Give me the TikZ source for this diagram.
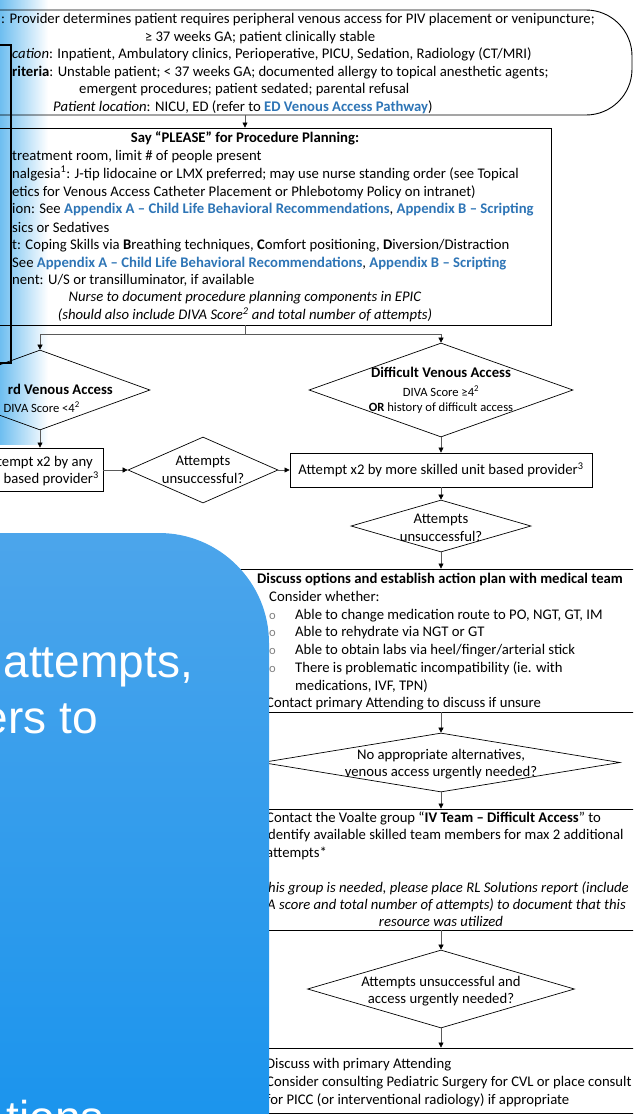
\documentclass[tikz,border=0pt]{standalone}
\usepackage{fontspec}
\setmainfont{Carlito}
\newfontfamily\slidefont{Liberation Sans}
\usetikzlibrary{
    positioning,
    arrows.meta,
    shapes.geometric,
    fadings
}
\definecolor{LinkBlue}{RGB}{46,117,182}
\definecolor{LineGray}{RGB}{90,90,90}
\definecolor{GlowBlue}{RGB}{110,190,240}
\definecolor{SlideTop}{RGB}{76,165,235}
\definecolor{SlideBottom}{RGB}{26,148,237}
\newcommand{\lnk}[1]{\textcolor{LinkBlue}{\textbf{#1}}}

\begin{document}
\begin{tikzpicture}[
    x=1pt, y=-1pt,
    box/.style={rectangle, draw, line width=0.9pt, inner sep=0pt},
    decis/.style={diamond, draw, line width=0.7pt, inner sep=0pt},
    txt/.style={inner sep=0pt, font=\fontsize{14.7}{17.5}\selectfont},
    smalltxt/.style={inner sep=0pt, font=\fontsize{12.6}{15}\selectfont},
    arr/.style={draw=LineGray, line width=0.6pt, -{Triangle[length=5pt, width=5pt, color=black]}},
    conn/.style={draw=LineGray, line width=0.6pt},
    slide/.style={inner sep=0pt, text=white, font=\slidefont\fontsize{46}{56}\selectfont},
]
\useasboundingbox (0,0) rectangle (633,1114);
\clip (0,0) rectangle (633,1114);

% soft glow on the left edge
\fill[GlowBlue, path fading=east] (0,0) rectangle (48,445);

% inclusion / exclusion box
\node[box, rounded corners=46pt, minimum width=712pt, minimum height=105pt] (incl) at (276,62.5) {};
\node[txt, anchor=base west] (inc1) at (1,23.5) {: Provider determines patient requires peripheral venous access for PIV placement or venipuncture;};
\node[txt, anchor=base] (inc2) at (260,41) {≥ 37 weeks GA; patient clinically stable};
\node[txt, anchor=base west] (inc3) at (12,58.5) {\textit{cation}: Inpatient, Ambulatory clinics, Perioperative, PICU, Sedation, Radiology (CT/MRI)};
\node[txt, anchor=base west] (inc4) at (12,76) {\textbf{riteria}: Unstable patient; < 37 weeks GA; documented allergy to topical anesthetic agents;};
\node[txt, anchor=base west] (inc5) at (79,93.5) {emergent procedures; patient sedated; parental refusal};
\node[txt, anchor=base west] (inc6) at (53,111) {\textit{Patient location}: NICU, ED (refer to \lnk{ED Venous Access Pathway})};

% PLEASE planning box
\coordinate (split) at (245,334);
\node[box, minimum width=611pt, minimum height=197pt] (please) at (245.5,226.5) {};
\node[txt, anchor=base] (pl0) at (245,142.5) {\textbf{Say “PLEASE” for Procedure Planning:}};
\node[txt, anchor=base west] (pl1) at (12,160.5) {treatment room, limit \# of people present};
\node[txt, anchor=base west] (pl2) at (12,178) {nalgesia\textsuperscript{1}: J-tip lidocaine or LMX preferred; may use nurse standing order (see Topical};
\node[txt, anchor=base west] (pl3) at (12,196) {etics for Venous Access Catheter Placement or Phlebotomy Policy on intranet)};
\node[txt, anchor=base west] (pl4) at (12,213.5) {ion: See \lnk{Appendix A – Child Life Behavioral Recommendations}, \lnk{Appendix B – Scripting}};
\node[txt, anchor=base west] (pl5) at (12,232) {sics or Sedatives};
\node[txt, anchor=base west] (pl6) at (12,249.5) {t: Coping Skills via \textbf{B}reathing techniques, \textbf{C}omfort positioning, \textbf{D}iversion/Distraction};
\node[txt, anchor=base west] (pl7) at (12,267) {See \lnk{Appendix A – Child Life Behavioral Recommendations}, \lnk{Appendix B – Scripting}};
\node[txt, anchor=base west] (pl8) at (12,284.5) {nent: U/S or transilluminator, if available};
\node[txt, anchor=base] (pl9) at (245,301.5) {\textit{Nurse to document procedure planning components in EPIC}};
\node[txt, anchor=base] (pl10) at (245,319.5) {\textit{(should also include DIVA Score\textsuperscript{2} and total number of attempts)}};

\draw[arr] (incl.south -| split) -- (please.north -| split);
\draw[conn] (please.south -| split) -- (split);

% standard access branch
\node[decis, minimum width=220pt, minimum height=80pt] (std) at (40,390) {};
\node[txt, anchor=base east] (stdT) at (113,394.5) {\textbf{rd Venous Access}};
\node[smalltxt, anchor=base east] (stdS) at (80,412) {DIVA Score <4\textsuperscript{2}};
\node[box, minimum width=163pt, minimum height=43pt] (anyprov) at (21.5,469.5) {};
\node[txt, anchor=base east] (any1) at (93,466.5) {tempt x2 by any};
\node[txt, anchor=base east] (any2) at (99,483.5) {t based provider\textsuperscript{3}};
\node[decis, minimum width=150pt, minimum height=66pt] (retry1) at (203,470) {};
\node[txt, align=center] (retry1T) at (retry1) {Attempts\\unsuccessful?};

% difficult access branch
\node[decis, minimum width=264pt, minimum height=94pt] (diff) at (441,390) {};
\node[txt, anchor=base] (diffT) at (441,377.5) {\textbf{Difficult Venous Access}};
\node[smalltxt, anchor=base] (diffS) at (441,396) {DIVA Score ≥4\textsuperscript{2}};
\node[smalltxt, anchor=base] (diffO) at (441,411) {\textbf{OR} history of difficult access};
\node[box, minimum width=302pt, minimum height=34pt, font=\fontsize{14.7}{17.5}\selectfont] (skilled) at (441,470) {Attempt x2 by more skilled unit based provider\textsuperscript{3}};
\node[decis, minimum width=180pt, minimum height=52pt] (retry2) at (441,526) {};
\node[txt, align=center] (retry2T) at (441,528) {Attempts\\unsuccessful?};

\draw[arr] (split) -| (std.north);
\draw[arr] (split) -| (diff.north);
\draw[arr] (std.south) -- (anyprov.north -| std);
\draw[arr] (anyprov.east |- retry1) -- (retry1.west);
\draw[arr] (retry1.east) -- (skilled.west);
\draw[arr] (diff.south) -- (skilled.north);
\draw[arr] (skilled.south) -- (retry2.north);

% options with medical team
\node[box, minimum width=450pt, minimum height=143pt] (opts) at (425,640.5) {};
\node[txt, anchor=base west] (op0) at (257,583.5) {\textbf{Discuss options and establish action plan with medical team}};
\node[txt, anchor=base west] (op1) at (269,601.5) {Consider whether:};
\node[smalltxt, anchor=base west, text=gray] (bul1) at (269,619.5) {o};
\node[smalltxt, anchor=base west, text=gray] (bul2) at (269,636.5) {o};
\node[smalltxt, anchor=base west, text=gray] (bul3) at (269,654.5) {o};
\node[smalltxt, anchor=base west, text=gray] (bul4) at (269,672) {o};
\node[txt, anchor=base west] (op2) at (295,619.5) {Able to change medication route to PO, NGT, GT, IM};
\node[txt, anchor=base west] (op3) at (295,636.5) {Able to rehydrate via NGT or GT};
\node[txt, anchor=base west] (op4) at (295,654.5) {Able to obtain labs via heel/finger/arterial stick};
\node[txt, anchor=base west] (op5) at (295,672) {There is problematic incompatibility (ie. with};
\node[txt, anchor=base west] (op6) at (295,690) {medications, IVF, TPN)};
\node[txt, anchor=base west] (op7) at (266,707.5) {Contact primary Attending to discuss if unsure};
\draw[arr] (retry2.south) -- (opts.north -| retry2);

\node[decis, minimum width=358pt, minimum height=59pt] (noalt) at (441,762.5) {};
\node[txt, align=center] (noaltT) at (441,764) {No appropriate alternatives,\\venous access urgently needed?};
\draw[arr] (opts.south -| noalt) -- (noalt.north);

% IV team
\node[box, minimum width=450pt, minimum height=121pt] (voalte) at (425,869.5) {};
\node[txt, anchor=base west] (iv1) at (266,822.5) {Contact the Voalte group “\textbf{IV Team – Difficult Access}” to};
\node[txt, anchor=base west] (iv2) at (268,839.5) {dentify available skilled team members for max 2 additional};
\node[txt, anchor=base west] (iv3) at (266,857.5) {attempts*};
\node[txt, anchor=base west] (iv4) at (268,892.5) {\textit{his group is needed, please place RL Solutions report (include}};
\node[txt, anchor=base west] (iv5) at (267,909.5) {\textit{A score and total number of attempts) to document that this}};
\node[txt, anchor=base] (iv6) at (441,926.5) {\textit{resource was utilized}};
\draw[arr] (noalt.south) -- (voalte.north -| noalt);

\node[decis, minimum width=267pt, minimum height=78pt] (urgent) at (441,989) {};
\node[txt, align=center] (urgentT) at (441,991) {Attempts unsuccessful and\\access urgently needed?};
\draw[arr] (voalte.south -| urgent) -- (urgent.north);

% surgery / PICC
\node[box, minimum width=450pt, minimum height=65pt] (surg) at (425,1080.5) {};
\node[txt, anchor=base west] (sg1) at (266,1068.5) {Discuss with primary Attending};
\node[txt, anchor=base west] (sg2) at (266,1086.5) {Consider consulting Pediatric Surgery for CVL or place consult};
\node[txt, anchor=base west] (sg3) at (266,1104.5) {for PICC (or interventional radiology) if appropriate};
\draw[arr] (urgent.south) -- (surg.north -| urgent);

% overlay edge on the left
\draw[line width=2pt] (-2,45) -| (11,363) -- (-2,363);

% slide panel on top
\shade[top color=SlideTop, bottom color=SlideBottom] (-5,1130) -- (-5,533) -- (159,533)
    .. controls (219.7,533) and (269,582.3) .. (269,643) -- (269,1130) -- cycle;
\node[slide, anchor=base east] (sl1) at (193,677) {attempts,};
\node[slide, anchor=base east] (sl2) at (98,733) {ers to};
\node[slide, anchor=base east] (sl3) at (104,1133) {tions};
\end{tikzpicture}
\end{document}
